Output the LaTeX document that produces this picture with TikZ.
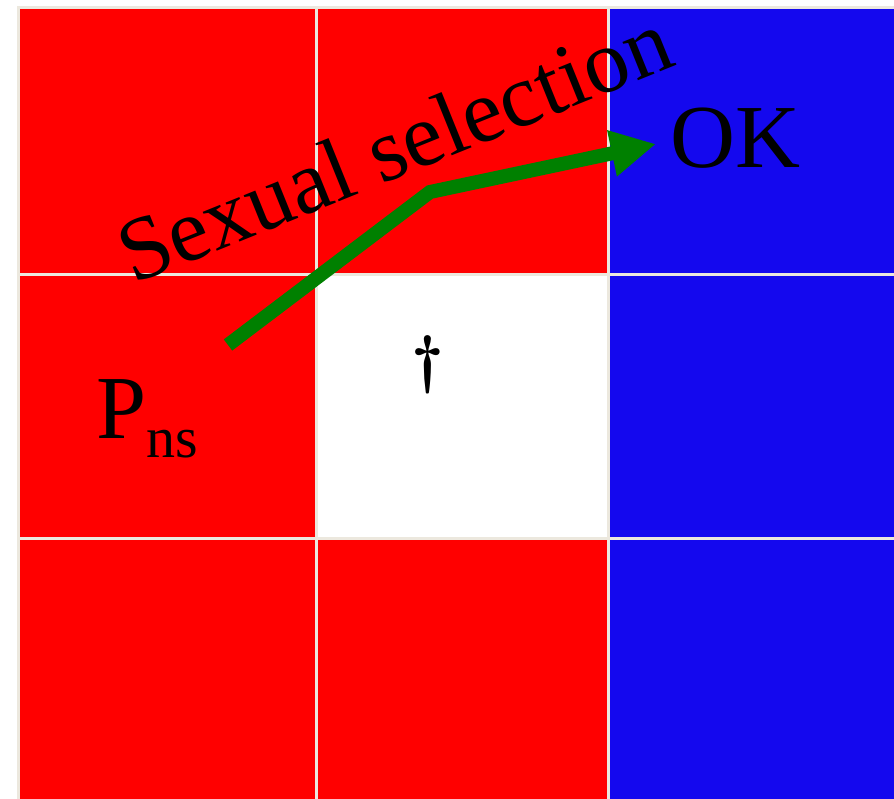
\documentclass[tikz,border=0pt]{standalone}
\usepackage{fontspec}
\setmainfont{Liberation Serif}
\usepackage{tikz}
\usepackage{xcolor}
\usetikzlibrary{arrows.meta}
\definecolor{CellRed}{HTML}{FF0000}
\definecolor{CellBlue}{HTML}{1408EE}
\definecolor{CellWhite}{HTML}{FFFFFF}
\definecolor{GridLine}{HTML}{ECE8DE}
\definecolor{PathGreen}{HTML}{008000}
\tikzset{
    % Cell fills
    cell red/.style={fill=CellRed},
    cell blue/.style={fill=CellBlue},
    cell white/.style={fill=CellWhite},
    % Big serif labels
    big label/.style={
        inner sep=0pt,
        font=\rmfamily\fontsize{90}{90}\selectfont
    },
    % Thick green path with a big head
    selection arrow/.style={
        -{Triangle[length=45pt, width=44pt]},
        line width=14pt,
        PathGreen
    }
}

\begin{document}
\begin{tikzpicture}[x=1pt, y=-1pt]
        \useasboundingbox (0,0) rectangle (894,799);

        % Grid background
        \fill[GridLine] (17,6) rectangle (894,799);

        % Column 1
        \fill[cell red] (20,9) rectangle (315,273);
        \fill[cell red] (20,276.5) rectangle (315,537);
        \fill[cell red] (20,539.5) rectangle (315,799);

        % Column 2
        \fill[cell red] (318,9) rectangle (607,273);
        \fill[cell white] (318,276.5) rectangle (607,537);
        \fill[cell red] (318,539.5) rectangle (607,799);

        % Column 3
        \fill[cell blue] (609.5,9) rectangle (894,273);
        \fill[cell blue] (609.5,276.5) rectangle (894,537);
        \fill[cell blue] (609.5,539.5) rectangle (894,799);

        % Labels
        \node[big label, anchor=base west] (pns) at (96,438)
            {P\raisebox{-19pt}{\fontsize{58}{58}\selectfont ns}};
        \node[big label, anchor=base west] (ok) at (670,168) {OK};
        \node[inner sep=0pt, scale=6.4, font=\boldmath] (dag) at (428,365) {$\dagger$};
        \node[big label, anchor=base west, rotate=22] (sexsel) at (133,285)
            {Sexual selection};

        % Arrow
        \coordinate (start) at (228,345);
        \coordinate (bend) at (430,192);
        \coordinate (tip) at (656,144);
        \draw[selection arrow] (start) -- (bend) -- (tip);
    \end{tikzpicture}
\end{document}
